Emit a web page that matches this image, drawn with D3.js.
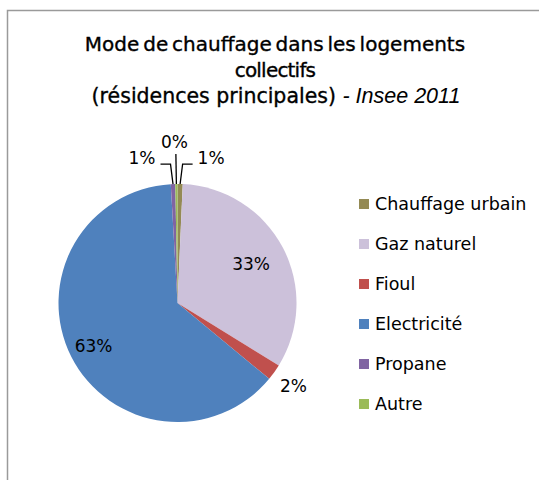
<!DOCTYPE html>
<html>
<head>
<meta charset="utf-8">
<script src="https://cdn.jsdelivr.net/npm/d3@7"></script>
<style>
  html, body { margin: 0; padding: 0; background: #fff; }
  svg { display: block; }
</style>
</head>
<body>
<svg id="chart" width="539" height="480"></svg>
<script>
// Heating mode shares (%), clockwise from 12 o'clock
const categories = ["Chauffage urbain", "Gaz naturel", "Fioul", "Electricité", "Propane", "Autre"];
const shares = [0.7, 33.1, 2.2, 63.1, 0.6, 0.3];
const sliceColors = ["#948A54", "#CCC1DA", "#C0504D", "#4F81BD", "#8064A2", "#9BBB59"];
const titleLines = ["Mode de chauffage dans les logements", "collectifs"];
const titleLast = "(résidences principales)";
const titleSource = "Insee 2011";

const svg = d3.select("#chart");
const baseFont = "'DejaVu Sans', Verdana, sans-serif";

// Chart frame
svg.append("rect")
  .attr("x", 7.5).attr("y", 10.5)
  .attr("width", 700).attr("height", 700)
  .attr("fill", "#fff")
  .attr("stroke", "#9a9a9a")
  .attr("stroke-width", 1.5);

// Title
const titleG = svg.append("g")
  .attr("font-family", baseFont)
  .attr("font-size", 20)
  .attr("fill", "#000");
titleLines.forEach((t, i) => {
  titleG.append("text")
    .attr("x", 275).attr("y", 51 + i * 26)
    .attr("text-anchor", "middle")
    .attr("stroke", "#000").attr("stroke-width", 0.35)
    .attr("word-spacing", i === 0 ? -2.5 : 0)
    .attr("letter-spacing", i === 1 ? -0.8 : 0)
    .text(t);
});
const last = titleG.append("text")
  .attr("x", 276).attr("y", 103)
  .attr("text-anchor", "middle");
last.append("tspan")
  .attr("stroke", "#000").attr("stroke-width", 0.35)
  .attr("font-size", 20.5)
  .text(titleLast + " ");
last.append("tspan")
  .attr("font-family", "'Liberation Sans', Arial, sans-serif")
  .attr("font-style", "italic")
  .attr("font-size", 21.5)
  .text("- " + titleSource);

// Pie
const cx = 177.5, cy = 303, r = 119;
const g = svg.append("g").attr("transform", `translate(${cx},${cy})`);
const pie = d3.pie().sort(null).value(d => d).startAngle(0).endAngle(2 * Math.PI);
const arcs = pie(shares);
const arc = d3.arc().innerRadius(0).outerRadius(r);

g.selectAll("path.slice")
  .data(arcs)
  .join("path")
  .attr("class", "slice")
  .attr("d", arc)
  .attr("fill", (d, i) => sliceColors[i]);

const fmt = v => Math.round(v) + "%";
const midAngle = d => (d.startAngle + d.endAngle) / 2;
const polar = (a, rad) => [rad * Math.sin(a), -rad * Math.cos(a)];

// Inside-label radius factor for the large slices
const insideRadius = { "Gaz naturel": 0.7, "Electricité": 0.79 };
// Leader-line side for tiny slices: -1 left, 0 up, +1 right
const leaderSide = { "Propane": -1, "Autre": 0, "Chauffage urbain": 1 };

arcs.forEach((d, i) => {
  const v = shares[i];
  const a = midAngle(d);
  const name = categories[i];
  const lbl = g.append("text")
    .attr("font-family", baseFont)
    .attr("font-size", 17)
    .attr("fill", "#000")
    .text(fmt(v));

  if (name in insideRadius) {
    const [x, y] = polar(a, r * insideRadius[name]);
    lbl.attr("x", x).attr("y", y).attr("text-anchor", "middle").attr("dy", "0.36em");
  } else if (name in leaderSide) {
    const side = leaderSide[name];
    const [ex, ey] = polar(a, r);
    let pts;
    if (side === 0) {
      pts = [[ex, ey], [ex - 0.5, ey - 30]];
      lbl.attr("x", ex - 2).attr("y", ey - 36).attr("text-anchor", "middle");
    } else {
      const ky = ey - 20;
      const kx = ex + side * 2.5;
      const hx = kx + side * 10;
      pts = [[ex, ey], [kx, ky], [hx, ky]];
      lbl.attr("x", hx + side * 5).attr("y", ky)
        .attr("text-anchor", side < 0 ? "end" : "start");
    }
    g.append("path")
      .attr("d", d3.line()(pts))
      .attr("fill", "none")
      .attr("stroke", "#000")
      .attr("stroke-width", 1.3);
  } else {
    const [x, y] = polar(a, r * 1.2);
    lbl.attr("x", x).attr("y", y).attr("text-anchor", "middle").attr("dy", "0.36em");
  }
});

// Legend
const legend = svg.append("g").attr("transform", "translate(359,199)");
const rows = legend.selectAll("g.row")
  .data(categories)
  .join("g")
  .attr("class", "row")
  .attr("transform", (d, i) => `translate(0,${i * 40})`);
rows.append("rect")
  .attr("width", 10).attr("height", 10)
  .attr("fill", (d, i) => sliceColors[i]);
rows.append("text")
  .attr("x", 16).attr("y", 5)
  .attr("dy", "0.36em")
  .attr("font-family", baseFont)
  .attr("font-size", 17.5)
  .attr("fill", "#000")
  .text(d => d);
</script>
</body>
</html>
